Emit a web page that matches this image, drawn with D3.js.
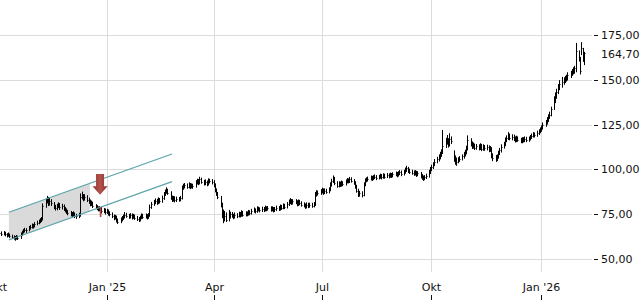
<!DOCTYPE html>
<html><head><meta charset="utf-8">
<script src="https://cdn.jsdelivr.net/npm/d3@7"></script>
<style>html,body{margin:0;padding:0;background:#fff;}svg{display:block;font-family:"DejaVu Sans",sans-serif;}</style>
</head><body><svg id="c" width="640" height="300"></svg>
<script>
// ---- data (weekly rows of daily values, first trading day 1 Oct 2024) ----
const closes = [
[65.5,65.0,64.6,64.2],[64.5,63.8,63.2,63.6,63.0],[62.4,62.0,61.5,62.2,61.8],[63.5,64.8,65.6,66.2,66.0],
[67.2,67.8,68.5,68.2,69.4],[70.2,70.8,71.5,72.0,79.5],[82.0,83.5,80.8,82.6,81.0],[79.0,78.2,79.5,80.2,78.8],
[79.4,78.0,77.2,76.5,75.8],[75.0,74.6,75.2,74.0,73.8],[74.5,84.5,85.2,83.6,84.8],[83.0,82.2,80.5,81.2,79.6],
[79.0,78.4,77.8,78.0,76.6],[77.2,76.0,76.8,75.5,75.2],[74.0,72.8,73.4,71.5,70.8],[72.0,72.8,73.6,74.8,74.2],
[73.5,74.4,73.2,74.0,73.0],[72.5,71.8,73.0,74.2,73.6],[74.0,73.2,74.5,79.2,80.5],[81.8,82.6,81.4,83.0,82.2],
[84.0,86.2,87.5,88.4,87.0],[84.2,83.0,84.0,82.8,83.6],[83.2,84.0,89.8,90.6,91.2],[90.4,91.6,90.2,91.0,90.5],
[92.8,93.6,92.4,94.5,93.2],[92.2,93.0,91.8,93.8,93.4],[93.0,91.2,88.5,86.4,84.8],[80.2,76.0,72.5,74.2,72.0],
[73.8,75.0,74.2,73.5,74.6],[74.0,75.2,74.4,76.0,74.8],[75.5,75.0,76.2,75.6,76.8],[77.4,76.6,78.2,77.8,77.2],
[78.0,77.4,78.6,77.8,78.4],[77.6,78.2,77.2,77.8,78.5],[78.0,79.2,78.6,79.8,79.0],[80.6,81.8,82.6,81.4,82.2],
[81.8,80.6,82.0,81.2,80.4],[80.0,79.2,80.4,79.6,80.2],[79.8,80.6,86.0,87.2,86.6],[87.8,88.4,87.0,88.2,87.6],
[88.8,91.5,93.6,94.8,92.4],[91.0,92.2,91.5,92.6,91.8],[93.2,94.0,93.4,94.6,93.8],[92.6,90.4,88.2,86.0,86.8],
[85.8,91.5,93.8,94.2,94.8],[95.4,94.8,95.6,96.0,95.2],[95.8,96.4,95.6,96.6,96.0],[96.8,96.2,97.0,96.4,97.2],
[97.6,96.8,97.8,98.4,97.4],[98.6,99.8,100.6,99.2,98.8],[98.2,97.6,98.4,97.0,97.8],[96.2,95.4,94.8,95.6,96.4],
[98.6,100.2,101.2,102.6,104.4],[105.6,106.8,108.4,109.6,113.0],[115.2,116.4,114.0,117.2,116.0],[106.2,105.0,104.2,105.4,106.0],
[107.2,108.4,109.6,111.8,116.5],[114.2,112.8,113.6,112.2,112.8],[112.0,113.2,111.6,112.6,111.8],[112.4,110.8,111.6,107.6,106.4],
[105.8,107.2,109.2,110.6,112.6],[114.2,116.4,117.6,118.8,117.4],[118.2,117.0,116.2,117.4,116.6],[115.8,116.8,116.2,117.0,116.4],
[117.2,118.0,118.8,119.6,119.0],[120.4,121.2,122.0,123.2,124.8],[126.2,127.8,129.4,130.6,133.6],[138.8,141.2,143.0,145.6,147.8],
[148.6,149.8,150.4,151.0,152.6],[153.4,154.6,155.2,156.4,166.0],[161.6,155.0,168.0,162.0,164.7]
];
const highs = [
[67.0,66.4,66.0,65.4],[65.6,65.2,64.4,64.8,64.2],[63.6,63.2,62.8,63.4,63.0],[64.8,65.8,66.8,67.4,67.2],
[68.4,69.0,69.8,69.6,70.6],[71.4,72.0,72.8,73.4,81.0],[83.8,85.2,84.6,84.0,83.4],[81.8,80.2,80.8,81.6,81.2],
[80.8,80.4,79.0,78.2,77.4],[76.8,76.2,76.6,76.0,75.2],[75.8,86.6,87.6,86.2,86.2],[85.6,84.2,83.2,82.6,82.0],
[80.6,80.0,79.4,79.4,79.0],[78.4,78.2,78.0,77.6,76.6],[76.0,74.8,74.6,74.2,72.6],[73.2,74.0,74.8,76.2,75.8],
[75.2,75.6,75.4,75.2,74.8],[74.0,73.4,74.2,75.4,75.2],[75.4,75.0,75.6,80.4,81.8],[83.0,83.8,83.6,84.4,84.0],
[85.4,87.4,88.8,90.0,89.2],[87.8,85.4,85.2,85.0,84.8],[84.6,85.2,91.0,92.0,92.4],[92.2,92.8,92.4,92.2,92.0],
[94.0,94.8,94.6,95.9,95.4],[94.2,94.4,93.8,95.0,94.8],[94.6,94.0,92.2,89.4,87.4],[85.2,81.4,77.6,76.8,76.0],
[77.4,76.4,76.2,75.2,76.0],[75.6,76.4,76.2,77.2,76.8],[76.6,76.6,77.4,77.2,78.0],[78.8,78.2,79.4,79.2,78.8],
[79.2,79.0,79.8,79.4,79.6],[79.4,79.4,79.0,79.0,79.8],[79.6,80.4,80.2,81.0,80.8],[81.8,83.2,84.0,83.4,83.4],
[83.4,82.8,83.2,83.0,82.2],[81.6,81.0,81.6,81.4,81.4],[81.4,81.8,87.4,88.4,88.2],[89.0,89.8,89.4,89.4,89.2],
[90.0,92.8,94.8,96.6,95.8],[93.4,93.4,93.2,93.8,93.4],[94.4,95.2,95.0,95.8,95.6],[94.6,93.4,91.4,89.2,88.0],
[87.8,92.8,95.0,95.6,96.0],[96.6,96.4,96.8,97.2,96.8],[97.0,97.6,97.4,97.8,97.6],[98.0,97.8,98.2,98.0,98.4],
[98.8,98.6,99.0,99.6,99.4],[99.8,101.0,102.0,101.4,100.4],[99.8,99.4,99.6,99.2,99.0],[98.6,97.4,96.6,96.8,97.6],
[99.8,101.4,102.6,104.0,105.8],[107.0,108.4,109.8,111.2,122.0],[117.6,119.2,117.4,120.2,118.4],[110.6,107.8,106.6,106.8,107.4],
[108.4,109.8,111.0,113.2,119.0],[117.4,115.6,115.0,114.4,114.2],[114.0,114.6,114.2,114.0,113.6],[113.8,113.4,113.0,112.4,109.0],
[108.0,108.4,110.4,112.0,114.0],[115.4,117.8,119.0,120.8,120.0],[119.6,119.4,118.4,118.8,118.4],[117.6,118.0,118.0,118.4,118.2],
[118.4,119.2,120.0,120.8,120.6],[121.6,122.4,123.4,124.6,126.2],[127.6,129.2,130.8,132.2,135.0],[140.8,143.0,145.0,147.6,149.8],
[151.6,151.4,152.2,152.8,154.2],[155.0,156.0,157.0,157.8,170.6],[166.4,162.8,171.0,167.8,165.6]
];
const lows = [
[64.4,63.8,63.4,62.8],[63.2,62.6,62.0,62.4,61.8],[61.2,60.8,60.2,60.8,60.6],[61.2,62.8,64.2,64.8,64.6],
[65.4,66.4,67.0,67.0,67.6],[68.8,69.4,70.0,70.6,71.8],[78.6,81.0,79.6,79.8,79.6],[77.8,77.0,77.2,78.4,77.4],
[77.6,76.8,76.0,75.2,74.4],[73.8,73.2,73.6,72.8,72.4],[72.8,73.6,83.2,82.2,82.6],[81.8,80.8,79.4,79.6,78.4],
[77.8,77.2,76.6,76.6,75.4],[75.6,74.8,75.2,74.2,73.8],[72.8,71.6,72.0,70.4,69.6],[70.0,71.0,71.8,72.6,73.0],
[72.4,72.6,72.0,72.4,71.8],[71.2,70.6,71.0,72.2,72.4],[72.6,72.0,72.4,73.6,78.0],[79.6,80.6,80.2,80.6,81.0],
[81.4,83.0,85.2,86.4,85.8],[83.0,81.8,82.0,81.6,81.8],[82.0,82.2,83.2,88.6,89.4],[89.2,89.4,89.0,89.4,89.2],
[89.8,91.6,91.2,91.6,92.0],[91.0,91.2,90.6,91.0,92.2],[91.6,90.0,87.2,85.2,83.4],[78.8,72.8,70.0,71.0,70.6],
[71.0,72.6,73.0,72.2,72.6],[72.8,73.2,73.2,73.6,73.6],[73.8,73.8,74.2,74.4,74.8],[75.8,75.4,75.8,76.6,76.0],
[76.2,76.2,76.6,76.6,77.0],[76.4,76.6,76.0,76.2,76.8],[76.8,77.0,77.4,77.8,77.8],[78.2,79.6,80.6,80.2,80.4],
[80.6,79.4,79.6,80.0,79.2],[78.8,78.0,78.2,78.4,78.6],[78.6,78.8,79.6,84.8,85.4],[85.8,86.6,85.8,86.2,86.4],
[86.6,87.8,90.4,92.4,91.2],[89.8,90.0,90.2,90.4,90.6],[91.0,92.2,92.2,92.4,92.6],[91.4,89.2,87.0,84.6,84.8],
[84.4,85.0,90.6,92.8,93.2],[93.8,93.6,94.0,94.6,94.0],[94.4,94.8,94.4,94.8,94.8],[95.2,95.0,95.4,95.2,95.6],
[96.2,95.6,96.0,96.8,96.2],[96.6,97.6,98.6,98.0,97.4],[97.0,96.4,96.6,95.8,96.2],[95.0,94.2,93.6,94.0,94.6],
[95.4,97.4,99.0,100.2,101.8],[103.4,104.4,105.6,107.0,108.6],[112.0,113.8,112.2,112.8,114.2],[104.2,102.6,102.0,103.4,104.2],
[105.0,106.0,107.2,108.4,110.6],[112.8,111.4,111.6,110.8,111.0],[110.6,110.8,110.2,110.4,110.4],[110.6,109.6,109.8,106.2,104.6],
[104.2,104.6,106.0,108.0,109.4],[111.6,113.0,115.2,116.4,116.2],[116.2,115.8,115.0,115.2,115.4],[114.6,114.6,115.0,115.2,115.2],
[115.4,116.2,117.0,117.8,117.8],[118.2,119.2,120.2,121.0,122.2],[123.8,125.0,126.4,128.2,129.6],[133.2,137.0,139.4,142.0,144.2],
[145.6,147.2,148.2,149.0,149.6],[151.0,152.2,153.0,153.4,154.2],[160.2,153.0,163.8,160.0,158.2]
];
const firstDay = "2024-10-01";
const yTicks = [50, 75, 100, 125, 150, 175];
const lastValue = 164.70;
const xTickDates = ["2024-10-01","2025-01-01","2025-04-01","2025-07-01","2025-10-01","2026-01-01"];
const xTickLabels = ["Okt","Jan '25","Apr","Jul","Okt","Jan '26"];
// trend channel (dates, values)
const channelDates = ["2024-10-11","2025-02-25"];
const channelUpper = [76.1, 108.6];
const channelLower = [60.6, 93.2];
const shadeEndDate = "2024-12-18";
// sell signal
const signalDate = "2024-12-27";
const signalBar = [73.4, 79.0];
const arrowValues = [97.5, 90.6, 85.8]; // top, head base, tip

// ---- build ----
const C = closes.flat(), H = highs.flat(), L = lows.flat();
const parse = d3.timeParse("%Y-%m-%d");
const dates = [];
{ let d = parse(firstDay); while (dates.length < C.length) { const w = d.getDay(); if (w !== 0 && w !== 6) dates.push(new Date(d)); d = d3.timeDay.offset(d, 1); } }

const svg = d3.select("#c");
const x = d3.scaleTime().domain([parse("2024-10-01"), parse("2026-01-01")]).range([-3, 541]);
const y = d3.scaleLinear().domain([50, 175]).range([259, 35]);
const gridRight = 592;
const loc = d3.formatLocale({decimal: ",", thousands: ".", grouping: [3], currency: ["", "€"]});
const fmt = loc.format(".2f");

// grid
svg.append("g").selectAll("line").data(yTicks).join("line")
  .attr("x1", 0).attr("x2", gridRight).attr("y1", d => Math.round(y(d)) + 0.5).attr("y2", d => Math.round(y(d)) + 0.5)
  .attr("stroke", "#dcdcdc").attr("stroke-width", 1);
svg.append("g").selectAll("line").data(xTickDates).join("line")
  .attr("x1", d => Math.round(x(parse(d))) + 0.5).attr("x2", d => Math.round(x(parse(d))) + 0.5)
  .attr("y1", 0).attr("y2", 272).attr("stroke", "#dcdcdc").attr("stroke-width", 1);

// channel shading
const cd0 = parse(channelDates[0]), cd1 = parse(channelDates[1]), se = parse(shadeEndDate);
const t = (se - cd0) / (cd1 - cd0);
const lerp = (a, b) => a + (b - a) * t;
const shade = [[x(cd0), y(channelUpper[0])], [x(se), y(lerp(channelUpper[0], channelUpper[1]))],
               [x(se), y(lerp(channelLower[0], channelLower[1]))], [x(cd0), y(channelLower[0])]];
svg.append("path").attr("d", "M" + shade.join("L") + "Z").attr("fill", "#dadada");

// bars
const g = svg.append("g").attr("stroke", "#000").attr("stroke-width", 1);
dates.forEach((d, i) => {
  const xx = Math.round(x(d)) + 0.5;
  g.append("line").attr("x1", xx).attr("x2", xx).attr("y1", y(H[i]) ).attr("y2", y(L[i]));
  g.append("line").attr("x1", xx).attr("x2", xx + 1).attr("y1", Math.round(y(C[i])) + 0.5).attr("y2", Math.round(y(C[i])) + 0.5);
});

// channel lines
[channelUpper, channelLower].forEach(v => {
  svg.append("line").attr("x1", x(cd0)).attr("y1", y(v[0])).attr("x2", x(cd1)).attr("y2", y(v[1]))
    .attr("stroke", "#5aa3aa").attr("stroke-width", 1.2);
});

// signal bar and arrow
const sx = x(parse(signalDate));
svg.append("line").attr("x1", sx).attr("x2", sx).attr("y1", y(signalBar[1])).attr("y2", y(signalBar[0]))
  .attr("stroke", "#c0443e").attr("stroke-width", 1.6);
const defs = svg.append("defs");
const gr = defs.append("linearGradient").attr("id", "ag").attr("x1", "0").attr("x2", "1").attr("y1", "0").attr("y2", "0");
gr.append("stop").attr("offset", "0").attr("stop-color", "#8f2f2b");
gr.append("stop").attr("offset", "0.5").attr("stop-color", "#b4524c");
gr.append("stop").attr("offset", "1").attr("stop-color", "#8f2f2b");
const ax = sx - 0.5, sw = 4, hw = 7.5;
const arrow = [[ax - sw, y(arrowValues[0])], [ax + sw, y(arrowValues[0])], [ax + sw, y(arrowValues[1])], [ax + hw, y(arrowValues[1])],
  [ax, y(arrowValues[2])], [ax - hw, y(arrowValues[1])], [ax - sw, y(arrowValues[1])]];
svg.append("path").attr("d", "M" + arrow.join("L") + "Z").attr("fill", "url(#ag)");

// y axis
const ya = svg.append("g").attr("font-size", 11).attr("fill", "#111");
yTicks.forEach(v => {
  const yy = Math.round(y(v)) + 0.5;
  ya.append("line").attr("x1", 594).attr("x2", 598).attr("y1", yy).attr("y2", yy).attr("stroke", "#111");
  ya.append("text").attr("x", 601).attr("y", yy).attr("dy", "0.35em").text(fmt(v));
});
ya.append("text").attr("x", 601).attr("y", y(lastValue) + 1).attr("dy", "0.35em").text(fmt(lastValue));

// x axis
const xa = svg.append("g").attr("font-size", 11).attr("fill", "#111");
xTickDates.forEach((d, i) => {
  const xx = Math.round(x(parse(d))) + 0.5;
  xa.append("text").attr("x", xx).attr("y", 291).attr("text-anchor", "middle").text(xTickLabels[i]);
  xa.append("line").attr("x1", xx).attr("x2", xx).attr("y1", 295).attr("y2", 300).attr("stroke", "#111");
});
</script></body></html>
